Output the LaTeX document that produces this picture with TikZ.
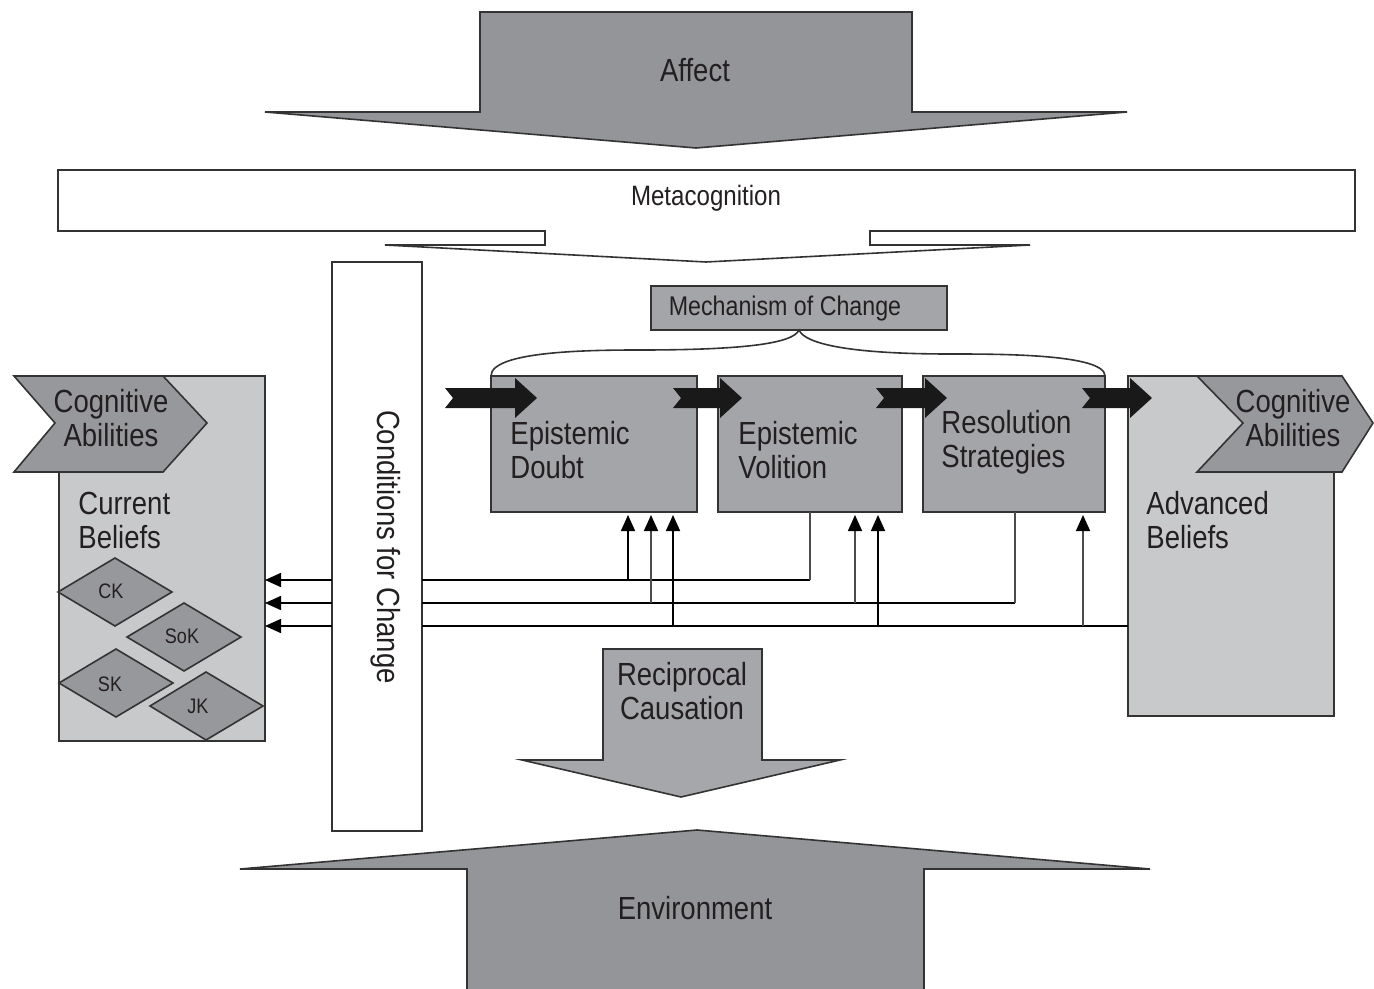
\documentclass[tikz,border=0pt]{standalone}
\usepackage{fontspec}
\setmainfont{Liberation Sans}[FakeStretch=0.86]
\usetikzlibrary{arrows.meta}
\definecolor{bigarrow}{HTML}{939598}
\definecolor{recarrow}{HTML}{A6A7AA}
\definecolor{midgray}{HTML}{A4A5A8}
\definecolor{chevgray}{HTML}{97989B}
\definecolor{lightgray}{HTML}{C8C9CB}
\definecolor{ink}{HTML}{231F20}
\definecolor{edge}{HTML}{333333}
\tikzset{
  boxbase/.style={inner sep=0pt, outer sep=0pt, anchor=north west, draw=edge, line width=1pt},
  procbox/.style={boxbase, fill=midgray},
  lightbox/.style={boxbase, fill=lightgray},
  whitebox/.style={boxbase, fill=white},
  shapefill/.style={draw=edge, line width=0.8pt},
  bigtxt/.style={text=ink, font=\fontsize{16}{17}\selectfont, inner sep=0pt},
  lefttxt/.style={bigtxt, align=left, anchor=west},
  ctrtxt/.style={bigtxt, align=center},
  smalltxt/.style={text=ink, font=\fontsize{10.5}{11}\selectfont, inner sep=0pt},
  conn/.style={draw=black, line width=0.8pt},
  connlight/.style={draw=black!70, line width=0.8pt},
  headtip/.style={-{Triangle[length=8pt,width=7pt,color=black]}},
  upconn/.style={conn, headtip, shorten >=1.5pt},
  upconnlight/.style={connlight, headtip, shorten >=1.5pt},
  leftconn/.style={conn, headtip},
  chev/.style={fill=black!90},
}
\newcommand{\chevarrow}[3]{% tail x, tip x, center y
  \fill[chev] (#1,{#3-10}) -- ({#2-22},{#3-10}) -- ({#2-22},{#3-20}) -- (#2,#3)
    -- ({#2-22},{#3+20}) -- ({#2-22},{#3+10}) -- (#1,{#3+10}) -- ({#1+8},#3) -- cycle;}
\begin{document}
\begin{tikzpicture}[x=0.5pt,y=-0.5pt]
\useasboundingbox (0,0) rectangle (1374,989);

% Affect arrow
\filldraw[shapefill, fill=bigarrow] (480,12) -- (912,12) -- (912,112) -- (1127,112) -- (696,148) -- (265,112) -- (480,112) -- cycle;
\node[bigtxt] (affect) at (695,70) {Affect};

% Metacognition
\filldraw[shapefill, fill=white] (58,170) -- (1355,170) -- (1355,231) -- (870,231) -- (870,245) -- (1030,245) -- (706,262) -- (385,245) -- (545,245) -- (545,231) -- (58,231) -- cycle;
\node[text=ink, font=\fontsize{14}{15}\selectfont, inner sep=0pt] (meta) at (706,198) {Metacognition};

% Environment arrow
\fill[bigarrow] (467,989) -- (467,869) -- (240,869) -- (697,830) -- (1150,869) -- (924,869) -- (924,989) -- cycle;
\draw[shapefill] (467,989) -- (467,869) -- (240,869) -- (697,830) -- (1150,869) -- (924,869) -- (924,989);
\node[bigtxt] (env) at (695,908) {Environment};

% Reciprocal Causation arrow
\filldraw[shapefill, fill=recarrow] (603,649) -- (762,649) -- (762,760) -- (840,760) -- (681,797) -- (522,760) -- (603,760) -- cycle;
\node[ctrtxt] (recip) at (682,691) {Reciprocal\\Causation};

% Conditions for Change
\node[whitebox, minimum width=45pt, minimum height=284.5pt] (cond) at (332,262) {};
\node[bigtxt, rotate=-90] (condtxt) at (386,547) {Conditions for Change};

% Current beliefs box
\node[lightbox, minimum width=103pt, minimum height=182.5pt] (cb) at (59,376) {};
\node[lefttxt] (cbtxt) at (78,520) {Current\\Beliefs};
\filldraw[shapefill, fill=chevgray] (14,376) -- (163,376) -- (207,423) -- (163,472) -- (14,472) -- (55,423) -- cycle;
\node[ctrtxt] (cogL) at (111,418) {Cognitive\\Abilities};

% diamonds
\filldraw[shapefill, fill=chevgray] (58,592) -- (115,558) -- (172,592) -- (115,626) -- cycle;
\node[smalltxt] (ck) at (111,591) {CK};
\filldraw[shapefill, fill=chevgray] (127,637) -- (184,603) -- (241,637) -- (184,671) -- cycle;
\node[smalltxt] (sok) at (182,636) {SoK};
\filldraw[shapefill, fill=chevgray] (59,683) -- (116,649) -- (173,683) -- (116,717) -- cycle;
\node[smalltxt] (sk) at (110,684) {SK};
\filldraw[shapefill, fill=chevgray] (150,706) -- (206,672) -- (263,706) -- (206,740) -- cycle;
\node[smalltxt] (jk) at (198,706) {JK};

% Advanced beliefs box
\node[lightbox, minimum width=103pt, minimum height=170pt] (ab) at (1128,376) {};
\node[lefttxt] (abtxt) at (1146,520) {Advanced\\Beliefs};
\filldraw[shapefill, fill=chevgray] (1197,376) -- (1342,376) -- (1373,423) -- (1342,472) -- (1197,472) -- (1243,423) -- cycle;
\node[ctrtxt] (cogR) at (1293,418) {Cognitive\\Abilities};

% process boxes
\node[procbox, minimum width=148pt, minimum height=22pt] (mc) at (651,286) {};
\node[text=ink, font=\fontsize{13.5}{14}\selectfont, inner sep=0pt] (mctxt) at (785,309) {Mechanism of Change};
\node[procbox, minimum width=103pt, minimum height=68pt] (ed) at (491,376) {};
\node[procbox, minimum width=92pt, minimum height=68pt] (ev) at (718,376) {};
\node[procbox, minimum width=91pt, minimum height=68pt] (rs) at (923,376) {};
\node[lefttxt] (edtxt) at (510,450) {Epistemic\\Doubt};
\node[lefttxt] (evtxt) at (738,450) {Epistemic\\Volition};
\node[lefttxt] (rstxt) at (941,442) {Resolution\\Strategies};

% brace from Mechanism of Change
\draw[line width=0.8pt, draw=edge] (ed.north west) .. controls +(0,-25) and +(-50,0) .. (640,350)
  .. controls +(100,0) and +(-6,14) .. (mc.south)
  .. controls +(6,14) and +(-100,0) .. (950,354)
  .. controls +(50,0) and +(0,-22) .. (rs.north east);

% black chevron arrows
\chevarrow{445}{537}{398}
\chevarrow{673}{742}{398}
\chevarrow{876}{947}{398}
\chevarrow{1082}{1152}{398}

% connector rows and columns
\coordinate (r1) at (0,580);
\coordinate (r2) at (0,603);
\coordinate (r3) at (0,626);
\coordinate (x628) at (628,0);
\coordinate (x651) at (651,0);
\coordinate (x673) at (673,0);
\coordinate (x810) at (810,0);
\coordinate (x855) at (855,0);
\coordinate (x878) at (878,0);
\coordinate (x1015) at (1015,0);
\coordinate (x1083) at (1083,0);

% arrows into current beliefs
\draw[leftconn] (cond.west |- r1) -- (cb.east |- r1);
\draw[leftconn] (cond.west |- r2) -- (cb.east |- r2);
\draw[leftconn] (cond.west |- r3) -- (cb.east |- r3);

% right of conditions
\draw[conn] (cond.east |- r1) -- (x810 |- r1);
\draw[connlight] (x810 |- r1) -- (ev.south -| x810);
\draw[conn] (cond.east |- r2) -- (x1015 |- r2);
\draw[connlight] (x1015 |- r2) -- (rs.south -| x1015);
\draw[conn] (cond.east |- r3) -- (ab.west |- r3);

\draw[upconn] (x628 |- r1) -- (ed.south -| x628);
\draw[upconnlight] (x651 |- r2) -- (ed.south -| x651);
\draw[upconn] (x673 |- r3) -- (ed.south -| x673);
\draw[upconnlight] (x855 |- r2) -- (ev.south -| x855);
\draw[upconn] (x878 |- r3) -- (ev.south -| x878);
\draw[upconnlight] (x1083 |- r3) -- (rs.south -| x1083);
\end{tikzpicture}
\end{document}
